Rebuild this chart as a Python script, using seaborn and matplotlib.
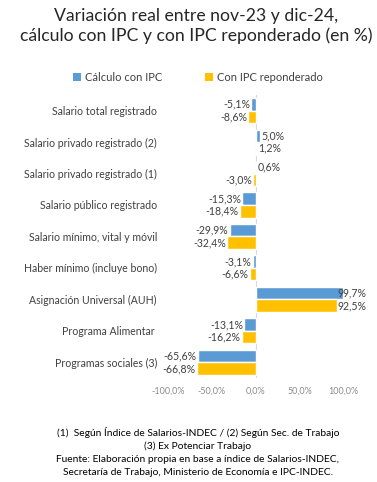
import matplotlib
matplotlib.use("Agg")
import matplotlib.pyplot as plt
import seaborn as sns
import pandas as pd
from matplotlib.patches import Patch

categories = [
    "Salario total registrado",
    "Salario privado registrado (2)",
    "Salario privado registrado (1)",
    "Salario público registrado",
    "Salario mínimo, vital y móvil",
    "Haber mínimo (incluye bono)",
    "Asignación Universal (AUH)",
    "Programa Alimentar ",
    "Programas sociales (3)",
]
series_names = ["Cálculo con IPC", "Con IPC reponderado"]
ipc = [-5.1, 5.0, 0.6, -15.3, -29.9, -3.1, 99.7, -13.1, -65.6]
ipc_rep = [-8.6, 1.2, -3.0, -18.4, -32.4, -6.6, 92.5, -16.2, -66.8]
xticks = [-100, -50, 0, 50, 100]

colors = ["#5B9BD5", "#FFC000"]

df = pd.DataFrame({
    "cat": categories * 2,
    "serie": [series_names[0]] * len(categories) + [series_names[1]] * len(categories),
    "val": ipc + ipc_rep,
})

sns.set_theme(style="white")
plt.rcParams["font.family"] = ["Lato", "DejaVu Sans"]

fig = plt.figure(figsize=(3.77, 4.82), dpi=100)
ax = fig.add_axes([0.4456, 0.216, 0.4655, 0.587])

sns.barplot(data=df, x="val", y="cat", hue="serie", order=categories,
            hue_order=series_names, palette=colors, orient="h",
            width=0.8, ax=ax, legend=False, saturation=1, errorbar=None)

ax.set_xlim(-100, 100)
ax.set_xticks(xticks)
ax.set_xticklabels([f"{t:.1f}%".replace(".", ",") for t in xticks],
                   fontsize=6.5, color="#8c8c8c")
ax.tick_params(axis="x", length=0, pad=6)
ax.set_yticklabels(categories, fontsize=7.6, color="#404040")
ax.tick_params(axis="y", length=0, pad=8)
ax.set_xlabel("")
ax.set_ylabel("")
for s in ["top", "right", "bottom", "left"]:
    ax.spines[s].set_visible(False)
ax.axvline(0, color="#d9d9d9", lw=0.8, zorder=0)

# data labels
for cont in ax.containers:
    for bar in cont:
        w = bar.get_width()
        yc = bar.get_y() + bar.get_height() / 2
        txt = f"{w:.1f}%".replace(".", ",")
        if w < 0:
            ax.text(w - 1.5, yc, txt, ha="right", va="center", fontsize=7.6, color="#404040")
        else:
            x = min(w + 1.5, 93)
            ax.text(x, yc, txt, ha="left", va="center", fontsize=7.6, color="#404040")

# legend
handles = [Patch(facecolor=c, edgecolor="none") for c in colors]
fig.legend(handles, series_names, loc="center", bbox_to_anchor=(0.525, 0.84), ncol=2,
           frameon=False, fontsize=8, handlelength=0.7, handleheight=0.7,
           columnspacing=3.8, handletextpad=0.4, labelcolor="#404040")

fig.text(0.52, 0.983, "Variación real entre nov-23 y dic-24,\ncálculo con IPC y con IPC reponderado (en %)",
         ha="center", va="top", fontsize=12.7, color="#262626", linespacing=1.22)

foot = ("(1)  Según Índice de Salarios-INDEC / (2) Según Sec. de Trabajo\n"
        "(3) Ex Potenciar Trabajo\n"
        "Fuente: Elaboración propia en base a índice de Salarios-INDEC,\n"
        "Secretaría de Trabajo, Ministerio de Economía e IPC-INDEC.")
fig.text(0.525, 0.115, foot, ha="center", va="top", fontsize=7.4, color="#000000", linespacing=1.55)

fig.savefig("out.png", dpi=100)
